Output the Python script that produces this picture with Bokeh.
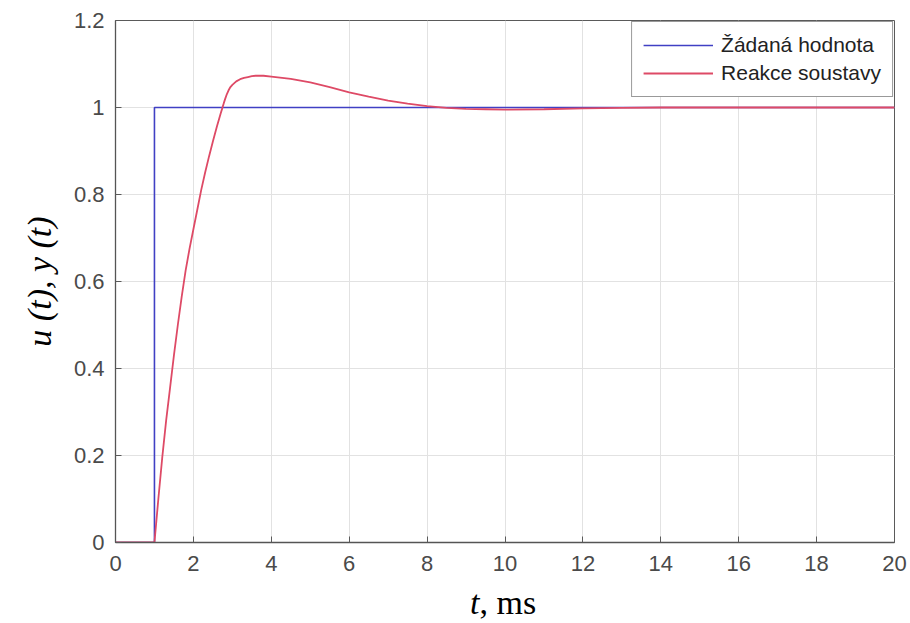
from bokeh.plotting import figure
from bokeh.models import Range1d, FixedTicker, Legend, LegendItem, Div
from bokeh.layouts import column
from bokeh.embed import file_html
from bokeh.resources import INLINE

# Reference step (setpoint)
step_t = [0, 1, 1, 20]
step_y = [0, 0, 1, 1]

# System response
resp_t = [0, 1.0, 1.1, 1.2, 1.3, 1.4, 1.5, 1.6, 1.7, 1.8, 1.9, 2.0, 2.1, 2.2, 2.3, 2.4, 2.5,
          2.6, 2.7, 2.74, 2.78, 2.82, 2.86, 2.9, 2.95, 3.0, 3.1, 3.2, 3.3, 3.4, 3.5, 3.6, 3.8, 4.0,
          4.5, 5.0, 5.5, 6.0, 6.5, 7.0, 7.5, 8.0, 8.5, 9.0, 9.5, 10, 11, 12, 13, 14, 16, 18, 20]
resp_y = [0, 0, 0.10, 0.195, 0.28, 0.355, 0.43, 0.50, 0.565, 0.625, 0.675, 0.72, 0.765, 0.81, 0.85, 0.887, 0.922,
          0.955, 0.986, 0.998, 1.010, 1.021, 1.031, 1.039, 1.047, 1.052, 1.060, 1.065, 1.068, 1.070, 1.072, 1.073, 1.073, 1.071,
          1.066, 1.058, 1.047, 1.035, 1.025, 1.016, 1.009, 1.003, 0.999, 0.997, 0.996, 0.995, 0.996, 0.998, 0.999, 1.0, 1.0, 1.0, 1.0]

x_ticks = [0, 2, 4, 6, 8, 10, 12, 14, 16, 18, 20]
y_ticks = [0, 0.2, 0.4, 0.6, 0.8, 1.0, 1.2]
legend_labels = ["Žádaná hodnota", "Reakce soustavy"]

p = figure(width=910, height=580, output_backend="svg", toolbar_location=None,
           x_range=Range1d(0, 20), y_range=Range1d(0, 1.2),
           min_border_left=115, min_border_right=16, min_border_top=20, min_border_bottom=38)
p.background_fill_color = "white"
p.border_fill_color = "white"
p.outline_line_color = "#5a5a5a"
p.outline_line_width = 1

for ax in (p.xaxis[0], p.yaxis[0]):
    ax.axis_line_color = "#555555"
    ax.axis_line_width = 1.3
    ax.major_tick_line_color = "#5a5a5a"
    ax.major_tick_in = 6
    ax.major_tick_out = 0
    ax.minor_tick_line_color = None
    ax.major_label_text_font = "Liberation Sans"
    ax.major_label_text_font_size = "22px"
    ax.major_label_text_color = "#4a4a4a"

p.xaxis.ticker = FixedTicker(ticks=x_ticks)
p.yaxis.ticker = FixedTicker(ticks=y_ticks)
p.yaxis.major_label_overrides = {1.0: "1", 0: "0", 1.2: "1.2"}
p.xaxis.major_label_standoff = 13
p.yaxis.major_label_standoff = 11

p.yaxis.axis_label = "u (t), y (t)"
p.yaxis.axis_label_text_font = "Liberation Serif"
p.yaxis.axis_label_text_font_style = "italic"
p.yaxis.axis_label_text_font_size = "34px"
p.yaxis.axis_label_text_color = "black"
p.yaxis.axis_label_standoff = 13

p.xgrid.ticker = FixedTicker(ticks=x_ticks)
p.ygrid.ticker = FixedTicker(ticks=y_ticks)
p.grid.grid_line_color = "#e2e2e2"
p.grid.grid_line_width = 1

r1 = p.line(step_t, step_y, line_color="#4040c4", line_width=1.6)
r2 = p.line(resp_t, resp_y, line_color="#de4a66", line_width=1.8)

legend = Legend(items=[LegendItem(label=legend_labels[0], renderers=[r1]),
                       LegendItem(label=legend_labels[1], renderers=[r2])],
                location="top_right")
legend.label_text_font = "Liberation Sans"
legend.label_text_font_size = "21px"
legend.label_text_color = "#222222"
legend.glyph_width = 70
legend.glyph_height = 20
legend.label_height = 20
legend.label_standoff = 8
legend.spacing = 4
legend.padding = 11
legend.margin = 1
legend.border_line_color = "#333333"
legend.border_line_width = 1
legend.background_fill_color = "white"
legend.background_fill_alpha = 1
p.add_layout(legend)

xlabel = Div(text='<div style="margin-left:470px; margin-top:6px; font-family:\'Liberation Serif\'; '
                  'font-size:34px; line-height:34px; color:black; white-space:nowrap;">'
                  '<i>t</i>, ms</div>',
             width=910, height=43, margin=0)

layout = column(p, xlabel, spacing=0)
open("out.html", "w").write(file_html(layout, INLINE))
